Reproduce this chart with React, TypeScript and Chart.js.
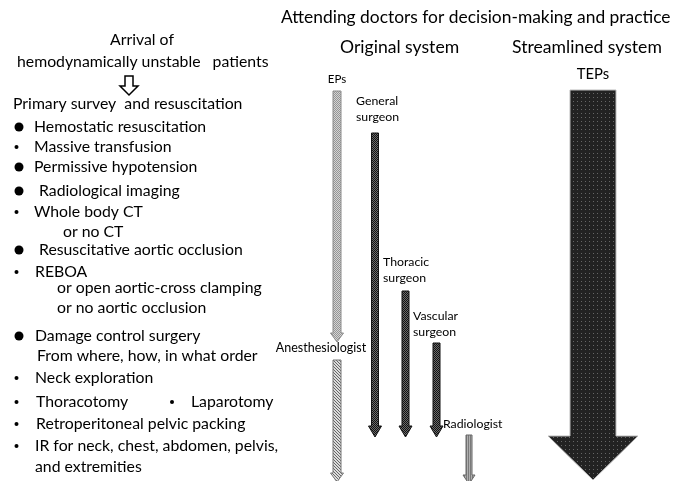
import React, { useEffect, useRef } from 'react';
import { Chart, registerables } from 'chart.js';
Chart.register(...registerables);

// ---- data ----
const arrowNames = ['EPs', 'General surgeon', 'Thoracic surgeon', 'Vascular surgeon', 'Anesthesiologist', 'Radiologist', 'TEPs'];
const arrowX = [337, 375, 405.5, 436.5, 337, 469, 593];
const arrowStart = [91, 133, 291, 343, 360, 435, 90];
const arrowEnd = [342, 437, 437, 437, 482, 484, 480];

const titleText = 'Attending doctors for decision-making and practice';
const systemTitles = ['Original system', 'Streamlined system'];
const headerLines = ['Arrival of', 'hemodynamically unstable   patients'];
const leftLines = [
  'Primary survey  and resuscitation',
  'Hemostatic resuscitation',
  'Massive transfusion',
  'Permissive hypotension',
  'Radiological imaging',
  'Whole body CT',
  'or no CT',
  'Resuscitative aortic occlusion',
  'REBOA',
  'or open aortic-cross clamping',
  'or no aortic occlusion',
  'Damage control surgery',
  'From where, how, in what order',
  'Neck exploration',
  'Thoracotomy',
  'Laparotomy',
  'Retroperitoneal pelvic packing',
  'IR for neck, chest, abdomen, pelvis,',
  'and extremities',
];

// ---- layout / styles ----
const FONT = 'Lato, "Open Sans", sans-serif';
const LEFT_SIZE = 15.8;
const leftLayout: { x: number; y: number; bullet?: 'big' | 'small'; bx?: number }[] = [
  { x: 13, y: 104 },
  { x: 34, y: 127, bullet: 'big' },
  { x: 34, y: 147, bullet: 'small' },
  { x: 34, y: 167, bullet: 'big' },
  { x: 39, y: 191, bullet: 'big' },
  { x: 34, y: 212, bullet: 'small' },
  { x: 63, y: 232 },
  { x: 39, y: 250, bullet: 'big' },
  { x: 35, y: 272, bullet: 'small' },
  { x: 57, y: 288 },
  { x: 57, y: 308 },
  { x: 35, y: 336, bullet: 'big' },
  { x: 37, y: 356 },
  { x: 35, y: 378, bullet: 'small' },
  { x: 36, y: 402, bullet: 'small' },
  { x: 191, y: 402, bullet: 'small', bx: 172 },
  { x: 36, y: 424, bullet: 'small' },
  { x: 35, y: 446, bullet: 'small' },
  { x: 35, y: 467 },
];

type ArrowStyle = { shaft: number; head: number; headLen: number; kind: string; stroke: string };
const arrowStyles: ArrowStyle[] = [
  { shaft: 8, head: 13, headLen: 9, kind: 'light', stroke: '#8a8a8a' },
  { shaft: 7, head: 13, headLen: 11, kind: 'dark', stroke: '#111' },
  { shaft: 7, head: 13, headLen: 11, kind: 'dark', stroke: '#111' },
  { shaft: 7, head: 13, headLen: 11, kind: 'dark', stroke: '#111' },
  { shaft: 8, head: 13, headLen: 9, kind: 'hatch', stroke: '#777' },
  { shaft: 6, head: 12, headLen: 9, kind: 'stripe', stroke: '#666' },
  { shaft: 46, head: 90, headLen: 44, kind: 'dots', stroke: '#bbb' },
];
// label placement for arrows: [x, y, align, size]
const arrowLabelPos: [number, number, CanvasTextAlign, number][] = [
  [337, 79, 'center', 11.5],
  [356, 101, 'left', 12.3],
  [383, 262, 'left', 12.3],
  [413, 316, 'left', 12.3],
  [321, 348, 'center', 12.5],
  [443, 424, 'left', 12.3],
  [593, 74, 'center', 14.8],
];

function makePattern(ctx: CanvasRenderingContext2D, kind: string) {
  const c = document.createElement('canvas');
  const g = c.getContext('2d')!;
  if (kind === 'light') {
    c.width = 2; c.height = 2;
    g.fillStyle = '#d4d4d4'; g.fillRect(0, 0, 2, 2);
    g.fillStyle = '#959595'; g.fillRect(0, 0, 1, 1); g.fillRect(1, 1, 1, 1);
  } else if (kind === 'dark') {
    c.width = 2; c.height = 2;
    g.fillStyle = '#6a6a6a'; g.fillRect(0, 0, 2, 2);
    g.fillStyle = '#111'; g.fillRect(0, 0, 1, 1); g.fillRect(1, 1, 1, 1);
  } else if (kind === 'hatch') {
    c.width = 3; c.height = 3;
    g.fillStyle = '#dcdcdc'; g.fillRect(0, 0, 3, 3);
    g.fillStyle = '#666';
    g.fillRect(0, 0, 1, 1); g.fillRect(1, 1, 1, 1); g.fillRect(2, 2, 1, 1);
  } else if (kind === 'stripe') {
    c.width = 2; c.height = 1;
    g.fillStyle = '#7a7a7a'; g.fillRect(0, 0, 1, 1);
    g.fillStyle = '#b0b0b0'; g.fillRect(1, 0, 1, 1);
  } else {
    c.width = 4; c.height = 4;
    g.fillStyle = '#222'; g.fillRect(0, 0, 4, 4);
    g.fillStyle = '#666'; g.fillRect(1, 1, 1, 1);
  }
  return ctx.createPattern(c, 'repeat')!;
}

const drawPlugin = {
  id: 'diagram',
  afterDatasetsDraw(chart: any) {
    const ctx: CanvasRenderingContext2D = chart.ctx;
    const xs = chart.scales.x;
    const ys = chart.scales.y;
    ctx.save();
    // arrows
    chart.data.datasets.forEach((ds: any, i: number) => {
      const meta = chart.getDatasetMeta(i);
      const p0 = meta.data[0];
      const p1 = meta.data[1];
      const st = arrowStyles[i];
      const cx = p0.x;
      const top = p0.y;
      const tip = p1.y;
      const hs = st.shaft / 2;
      const hh = st.head / 2;
      const baseY = tip - st.headLen;
      ctx.beginPath();
      ctx.moveTo(cx - hs, top);
      ctx.lineTo(cx + hs, top);
      ctx.lineTo(cx + hs, baseY);
      ctx.lineTo(cx + hh, baseY);
      ctx.lineTo(cx, tip);
      ctx.lineTo(cx - hh, baseY);
      ctx.lineTo(cx - hs, baseY);
      ctx.closePath();
      ctx.fillStyle = makePattern(ctx, st.kind);
      ctx.fill();
      ctx.lineWidth = 1;
      ctx.strokeStyle = st.stroke;
      ctx.stroke();
      // label
      const lp = arrowLabelPos[i];
      ctx.fillStyle = '#000';
      ctx.font = `${lp[3]}px ${FONT}`;
      ctx.textAlign = lp[2];
      ctx.textBaseline = 'middle';
      const words = ds.label.split(' ');
      const lines = i === 1 || i === 2 || i === 3 ? words : [ds.label];
      lines.forEach((ln: string, k: number) => {
        ctx.fillText(ln, xs.getPixelForValue(lp[0]), ys.getPixelForValue(lp[1] + k * 16));
      });
    });

    // titles
    ctx.fillStyle = '#000';
    ctx.textBaseline = 'middle';
    ctx.textAlign = 'left';
    ctx.font = `17.4px ${FONT}`;
    ctx.fillText(titleText, xs.getPixelForValue(281), ys.getPixelForValue(17));
    ctx.font = `17.6px ${FONT}`;
    ctx.fillText(systemTitles[0], xs.getPixelForValue(340), ys.getPixelForValue(47));
    ctx.fillText(systemTitles[1], xs.getPixelForValue(512), ys.getPixelForValue(47));

    // header
    ctx.font = `${LEFT_SIZE}px ${FONT}`;
    ctx.textAlign = 'center';
    ctx.fillText(headerLines[0], xs.getPixelForValue(142), ys.getPixelForValue(40));
    ctx.textAlign = 'left';
    ctx.fillText(headerLines[1], xs.getPixelForValue(17), ys.getPixelForValue(62));

    // hollow arrow
    const ax = xs.getPixelForValue(129);
    const aTop = ys.getPixelForValue(76);
    const aMid = ys.getPixelForValue(86);
    const aTip = ys.getPixelForValue(95);
    ctx.beginPath();
    ctx.moveTo(ax - 4, aTop);
    ctx.lineTo(ax + 4, aTop);
    ctx.lineTo(ax + 4, aMid);
    ctx.lineTo(ax + 9, aMid);
    ctx.lineTo(ax, aTip);
    ctx.lineTo(ax - 9, aMid);
    ctx.lineTo(ax - 4, aMid);
    ctx.closePath();
    ctx.fillStyle = '#fff';
    ctx.fill();
    ctx.strokeStyle = '#000';
    ctx.lineWidth = 1.5;
    ctx.stroke();

    // left list
    ctx.fillStyle = '#000';
    ctx.font = `${LEFT_SIZE}px ${FONT}`;
    ctx.textAlign = 'left';
    leftLines.forEach((t, i) => {
      const L = leftLayout[i];
      const y = ys.getPixelForValue(L.y);
      ctx.fillText(t, xs.getPixelForValue(L.x), y);
      if (L.bullet) {
        const big = L.bullet === 'big';
        const bx = xs.getPixelForValue(L.bx ?? (big ? 19 : 16.5));
        ctx.beginPath();
        ctx.arc(bx, y, big ? 4.5 : 2, 0, Math.PI * 2);
        ctx.fill();
      }
    });
    ctx.restore();
  },
};

export default function App() {
  const ref = useRef<HTMLCanvasElement>(null);
  useEffect(() => {
    const chart = new Chart(ref.current!, {
      type: 'scatter',
      data: {
        datasets: arrowNames.map((name, i) => ({
          label: name,
          data: [
            { x: arrowX[i], y: arrowStart[i] },
            { x: arrowX[i], y: arrowEnd[i] },
          ],
          pointRadius: 0,
          showLine: false,
        })),
      },
      options: {
        responsive: false,
        animation: false,
        layout: { padding: 0 },
        plugins: { legend: { display: false }, tooltip: { enabled: false } },
        scales: {
          x: { type: 'linear', min: 0, max: 686, display: false },
          y: { type: 'linear', min: 0, max: 481, reverse: true, display: false },
        },
      },
      plugins: [drawPlugin],
    });
    return () => chart.destroy();
  }, []);
  return (
    <div style={{ position: 'fixed', left: 0, top: 0, width: 686, height: 481, background: '#fff' }}>
      <canvas ref={ref} width={686} height={481} />
    </div>
  );
}
